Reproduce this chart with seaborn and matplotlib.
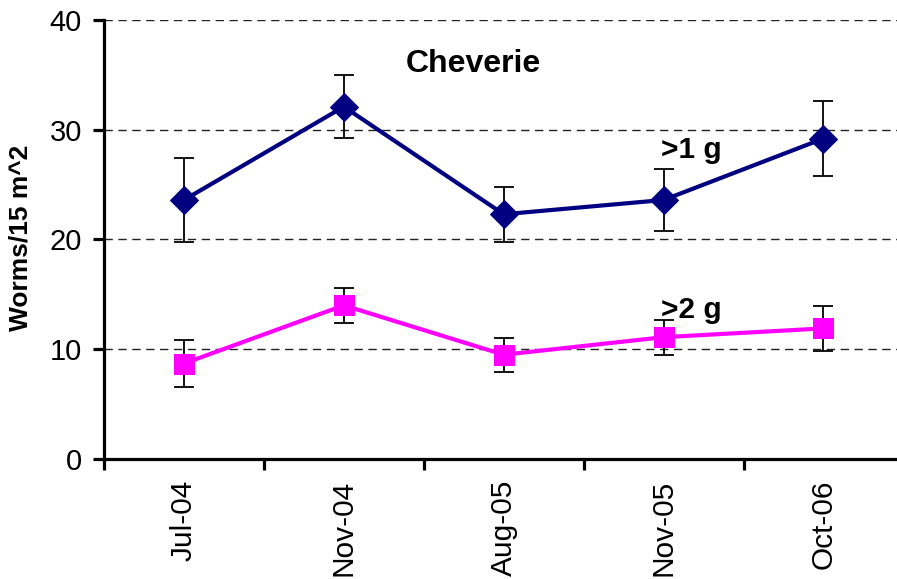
import numpy as np
import pandas as pd
import seaborn as sns
import matplotlib.pyplot as plt

# ---- data ----
dates = ["Jul-04", "Nov-04", "Aug-05", "Nov-05", "Oct-06"]
gt1 = [23.6, 32.1, 22.3, 23.6, 29.2]
gt1_err = [3.8, 2.85, 2.5, 2.8, 3.45]
gt2 = [8.7, 14.0, 9.5, 11.1, 11.9]
gt2_err = [2.1, 1.6, 1.55, 1.6, 2.05]
yticks = [0, 10, 20, 30, 40]

sns.set_theme(style="white")
plt.rcParams['font.family'] = ['Liberation Sans', 'DejaVu Sans']
plt.rcParams.update({"text.color": "black", "axes.labelcolor": "black",
                     "xtick.color": "black", "ytick.color": "black"})

navy = "#000080"
magenta = "#FF00FF"

pos = np.arange(len(dates))
df = pd.DataFrame({"pos": pos, "gt1": gt1, "gt2": gt2})

fig = plt.figure(figsize=(8.97, 5.79), dpi=100)
ax = fig.add_axes([104/897, 1 - 459/579, 1 - 104/897, 439/579])

# error bars (behind markers)
ax.errorbar(pos, gt1, yerr=gt1_err, fmt='none', ecolor='black',
            elinewidth=1.3, capsize=7, capthick=1.3, zorder=2)
ax.errorbar(pos, gt2, yerr=gt2_err, fmt='none', ecolor='black',
            elinewidth=1.3, capsize=7, capthick=1.3, zorder=2)

sns.lineplot(data=df, x="pos", y="gt1", ax=ax, color=navy, marker="D",
             markersize=14, markeredgecolor=navy, linewidth=3, zorder=3)
sns.lineplot(data=df, x="pos", y="gt2", ax=ax, color=magenta, marker="s",
             markersize=14, markeredgecolor=magenta, linewidth=3, zorder=3)

ax.set_xlim(-0.5, 4.46)
ax.set_ylim(0, 40)

# grid
for yv in yticks[1:]:
    ax.axhline(yv, color="#222222", linewidth=1, linestyle=(0, (6, 4)), zorder=1)

# spines
for s in ["top", "right"]:
    ax.spines[s].set_visible(False)
for s in ["left", "bottom"]:
    ax.spines[s].set_linewidth(2.3)
    ax.spines[s].set_color("black")
    ax.spines[s].set_zorder(4)

ax.set_yticks(yticks)
ax.set_yticklabels([str(v) for v in yticks], fontsize=21, color="black")
ax.tick_params(axis='y', direction='out', length=8, width=2.3, color='black', pad=8, left=True)

ax.set_xticks(pos)
ax.set_xticklabels(dates, rotation=90, fontsize=21.5, color="black")
ax.tick_params(axis='x', which='major', length=0, pad=15)
ax.set_xticks(pos - 0.5, minor=True)
ax.tick_params(axis='x', which='minor', direction='out', length=8, width=2.3,
               color='black', bottom=True)

ax.set_xlabel("")
ax.set_ylabel("Worms/15 m^2", fontsize=19, fontweight='bold', va='center', color="black")
ax.yaxis.set_label_coords(-0.105, 0.503)

ax.text(1.386, 35.3, "Cheverie", fontsize=23, fontweight='bold', ha='left', va='baseline', color="black")
ax.text(2.984, 27.4, ">1 g", fontsize=21.5, fontweight='bold', ha='left', va='baseline', color="black")
ax.text(2.984, 12.85, ">2 g", fontsize=21.5, fontweight='bold', ha='left', va='baseline', color="black")

fig.savefig("out.png", dpi=100)
